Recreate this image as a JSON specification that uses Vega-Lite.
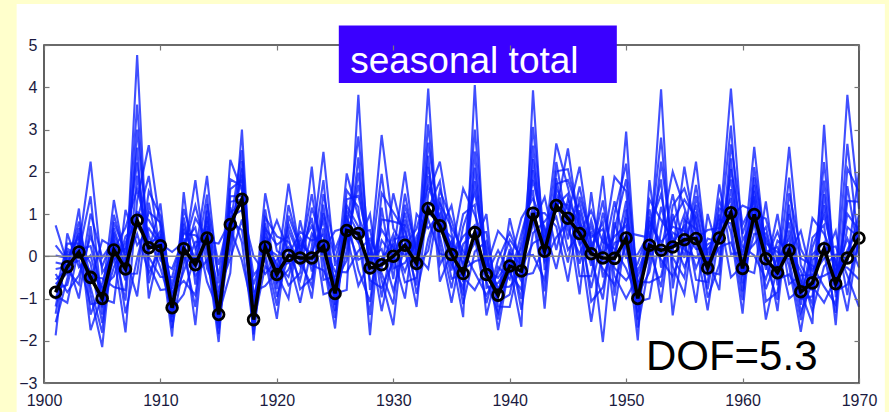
{
"$schema": "https://vega.github.io/schema/vega-lite/v6.json",
"width": 815, "height": 338,
"autosize": {"type": "none"},
"padding": {"left": 44, "top": 45, "right": 30, "bottom": 29},
"background": "#FFFFCC",
"config": {
 "view": {"stroke": null},
 "font": "Liberation Sans",
 "axis": {"domain": false, "grid": false, "title": null, "labelFlush": false, "labelOverlap": false, "labelFont": "Liberation Sans", "labelFontSize": 16, "labelColor": "#1a1a40", "tickColor": "#777777", "tickSize": -5, "tickWidth": 1.2}
},
"datasets": {"ens": [
{"year":1901,"obs":-0.85,"a":-0.77,"b":0.26,"c":-1.36,"d":-0.30,"e":-0.93,"f":-1.87,"g":0.02,"h":-0.66,"i":-1.19,"j":-0.42,"k":0.73,"l":-0.85,"m":-1.56,"n":-0.15,"o":-0.55,"p":-1.03},
{"year":1902,"obs":-0.25,"a":-0.68,"b":-0.10,"c":0.18,"d":-0.25,"e":-1.1,"f":0.54,"g":-0.04,"h":-0.40,"i":0.10,"j":-0.85,"k":-0.16,"l":0.30,"m":-0.53,"n":-0.21,"o":-0.32,"p":0.03},
{"year":1903,"obs":0.10,"a":0.38,"b":-1.0,"c":0.01,"d":0.82,"e":0.22,"f":-0.26,"g":0.46,"h":1.13,"i":0.10,"j":-0.45,"k":0.55,"l":0.30,"m":0.67,"n":-0.10,"o":-0.67,"p":0.15},
{"year":1904,"obs":-0.50,"a":-0.60,"b":0.71,"c":-0.36,"d":-0.91,"e":2.24,"f":0.02,"g":-0.73,"h":-1.38,"i":1.42,"j":0.46,"k":-1.75,"l":-0.17,"m":-0.50,"n":-1.13,"o":1.01,"p":0.24},
{"year":1905,"obs":-1.00,"a":0.38,"b":-1.38,"c":-0.74,"d":-2.15,"e":-0.39,"f":-1.0,"g":-1.81,"h":-0.63,"i":-1.21,"j":-0.24,"k":-0.93,"l":-1.58,"m":-0.52,"n":-1.09,"o":-0.03,"p":-0.83},
{"year":1906,"obs":0.15,"a":0.21,"b":0.98,"c":-0.48,"d":0.56,"e":0.05,"f":-1.1,"g":0.80,"h":0.29,"i":-0.26,"j":0.47,"k":1.33,"l":0.15,"m":-0.73,"n":0.67,"o":0.37,"p":-0.08},
{"year":1907,"obs":-0.30,"a":-1.05,"b":-0.03,"c":0.47,"d":-0.30,"e":-1.8,"f":1.1,"g":0.08,"h":-0.57,"i":0.32,"j":-1.35,"k":-0.13,"l":0.68,"m":-0.80,"n":-0.23,"o":-0.42,"p":0.19},
{"year":1908,"obs":0.85,"a":1.91,"b":-0.95,"c":0.71,"d":3.59,"e":1.32,"f":0.26,"g":2.22,"h":4.76,"i":0.85,"j":-0.05,"k":2.57,"l":1.59,"m":3.0,"n":0.53,"o":-0.41,"p":1.05},
{"year":1909,"obs":0.20,"a":0.10,"b":1.27,"c":0.32,"d":-0.20,"e":2.63,"f":0.66,"g":-0.02,"h":-0.64,"i":1.90,"j":1.05,"k":-1.0,"l":0.49,"m":0.20,"n":-0.40,"o":1.54,"p":0.86},
{"year":1910,"obs":0.25,"a":1.25,"b":-0.10,"c":0.44,"d":-0.8,"e":0.69,"f":0.25,"g":-0.49,"h":0.52,"i":0.06,"j":0.80,"k":0.30,"l":-0.28,"m":0.60,"n":0.17,"o":0.95,"p":0.37},
{"year":1911,"obs":-1.22,"a":-1.15,"b":-0.30,"c":-1.56,"d":-0.76,"e":-1.27,"f":-1.9,"g":-0.49,"h":-1.06,"i":-1.44,"j":-0.86,"k":0.1,"l":-1.22,"m":-1.70,"n":-0.64,"o":-0.97,"p":-1.34},
{"year":1912,"obs":0.18,"a":-0.36,"b":0.43,"c":0.92,"d":0.18,"e":-0.9,"f":1.52,"g":0.54,"h":-0.01,"i":0.77,"j":-0.58,"k":0.34,"l":1.12,"m":-0.18,"n":0.25,"o":0.09,"p":0.65},
{"year":1913,"obs":-0.20,"a":0.34,"b":-1.63,"c":-0.31,"d":1.20,"e":0.04,"f":-0.67,"g":0.50,"h":1.8,"i":-0.20,"j":-0.92,"k":0.68,"l":0.18,"m":0.90,"n":-0.46,"o":-1.20,"p":-0.10},
{"year":1914,"obs":0.43,"a":0.35,"b":1.08,"c":0.50,"d":0.09,"e":1.9,"f":0.71,"g":0.24,"h":-0.29,"i":1.46,"j":0.94,"k":-0.6,"l":0.61,"m":0.43,"n":-0.09,"o":1.24,"p":0.83},
{"year":1915,"obs":-1.38,"a":0.3,"b":-1.59,"c":-1.06,"d":-2.03,"e":-0.64,"f":-1.38,"g":-1.84,"h":-0.93,"i":-1.50,"j":-0.46,"k":-1.30,"l":-1.71,"m":-0.79,"n":-1.43,"o":-0.20,"p":-1.18},
{"year":1916,"obs":0.75,"a":0.83,"b":1.82,"c":0.17,"d":1.29,"e":0.66,"f":-0.4,"g":1.59,"h":0.93,"i":0.37,"j":1.16,"k":2.28,"l":0.75,"m":-0.06,"n":1.42,"o":1.04,"p":0.54},
{"year":1917,"obs":1.35,"a":0.62,"b":1.66,"c":2.26,"d":1.35,"e":-0.1,"f":3.0,"g":1.80,"h":1.09,"i":2.08,"j":0.33,"k":1.55,"l":2.51,"m":0.87,"n":1.43,"o":1.23,"p":1.93},
{"year":1918,"obs":-1.50,"a":-1.09,"b":-2.0,"c":-1.54,"d":-0.45,"e":-1.32,"f":-1.67,"g":-0.97,"h":0.0,"i":-1.50,"j":-1.75,"k":-0.84,"l":-1.21,"m":-0.67,"n":-1.59,"o":-1.85,"p":-1.42},
{"year":1919,"obs":0.22,"a":0.15,"b":0.78,"c":0.28,"d":-0.08,"e":1.49,"f":0.46,"g":0.05,"h":-0.42,"i":1.11,"j":0.66,"k":-0.7,"l":0.37,"m":0.22,"n":-0.24,"o":0.92,"p":0.56},
{"year":1920,"obs":-0.43,"a":0.85,"b":-0.78,"c":-0.19,"d":-1.48,"e":0.13,"f":-0.43,"g":-1.17,"h":-0.08,"i":-0.62,"j":0.27,"k":-0.37,"l":-0.96,"m":0.02,"n":-0.51,"o":0.47,"p":-0.28},
{"year":1921,"obs":0.02,"a":0.11,"b":1.21,"c":-0.49,"d":0.62,"e":-0.06,"f":-1.0,"g":0.96,"h":0.22,"i":-0.32,"j":0.48,"k":1.72,"l":0.02,"m":-0.69,"n":0.77,"o":0.34,"p":-0.16},
{"year":1922,"obs":-0.04,"a":-0.57,"b":0.13,"c":0.45,"d":-0.04,"e":-1.1,"f":0.85,"g":0.20,"h":-0.23,"i":0.35,"j":-0.78,"k":0.07,"l":0.58,"m":-0.39,"n":0.00,"o":-0.12,"p":0.27},
{"year":1923,"obs":-0.04,"a":0.54,"b":-1.0,"c":-0.12,"d":1.47,"e":0.22,"f":-0.36,"g":0.72,"h":2.12,"i":-0.04,"j":-0.52,"k":0.91,"l":0.37,"m":1.15,"n":-0.21,"o":-0.71,"p":0.07},
{"year":1924,"obs":0.24,"a":0.15,"b":1.22,"c":0.35,"d":-0.14,"e":2.47,"f":0.66,"g":0.03,"h":-0.56,"i":1.80,"j":1.02,"k":-0.9,"l":0.51,"m":0.24,"n":-0.33,"o":1.47,"p":0.84},
{"year":1925,"obs":-0.88,"a":0.6,"b":-1.15,"c":-0.60,"d":-1.71,"e":-0.23,"f":-0.88,"g":-1.46,"h":-0.48,"i":-1.03,"j":-0.07,"k":-0.81,"l":-1.30,"m":-0.36,"n":-0.95,"o":0.16,"p":-0.70},
{"year":1926,"obs":0.61,"a":0.68,"b":1.56,"c":-0.10,"d":1.08,"e":0.50,"f":-0.8,"g":1.35,"h":0.77,"i":0.14,"j":0.97,"k":1.96,"l":0.61,"m":-0.38,"n":1.20,"o":0.87,"p":0.36},
{"year":1927,"obs":0.54,"a":-0.08,"b":1.16,"c":2.34,"d":0.54,"e":-0.7,"f":3.82,"g":1.43,"h":0.32,"i":1.98,"j":-0.33,"k":0.93,"l":2.84,"m":0.13,"n":0.70,"o":0.44,"p":1.69},
{"year":1928,"obs":-0.28,"a":0.07,"b":-1.87,"c":-0.41,"d":0.62,"e":-0.13,"f":-0.80,"g":0.17,"h":1.0,"i":-0.28,"j":-1.08,"k":0.28,"l":-0.04,"m":0.42,"n":-0.57,"o":-1.39,"p":-0.22},
{"year":1929,"obs":-0.20,"a":-0.29,"b":1.15,"c":-0.05,"d":-0.56,"e":2.87,"f":0.38,"g":-0.40,"h":-0.97,"i":1.95,"j":0.87,"k":-1.3,"l":0.17,"m":-0.20,"n":-0.75,"o":1.49,"p":0.63},
{"year":1930,"obs":0.00,"a":1.49,"b":-0.54,"c":0.28,"d":-1.63,"e":0.66,"f":0.0,"g":-1.14,"h":0.40,"i":-0.29,"j":0.82,"k":0.07,"l":-0.82,"m":0.52,"n":-0.13,"o":1.04,"p":0.18},
{"year":1931,"obs":0.26,"a":0.35,"b":1.48,"c":-0.37,"d":0.87,"e":0.16,"f":-1.0,"g":1.22,"h":0.47,"i":-0.16,"j":0.73,"k":2.0,"l":0.26,"m":-0.62,"n":1.03,"o":0.59,"p":0.03},
{"year":1932,"obs":-0.17,"a":-0.69,"b":0.05,"c":0.47,"d":-0.17,"e":-1.2,"f":1.0,"g":0.15,"h":-0.36,"i":0.34,"j":-0.89,"k":-0.03,"l":0.65,"m":-0.51,"n":-0.11,"o":-0.25,"p":0.24},
{"year":1933,"obs":1.13,"a":1.90,"b":-0.3,"c":1.02,"d":3.12,"e":1.47,"f":0.66,"g":2.12,"h":3.97,"i":1.13,"j":0.41,"k":2.38,"l":1.67,"m":2.69,"n":0.87,"o":0.13,"p":1.27},
{"year":1934,"obs":0.72,"a":0.61,"b":1.39,"c":0.80,"d":0.28,"e":2.24,"f":1.01,"g":0.48,"h":-0.20,"i":1.78,"j":1.25,"k":-0.6,"l":0.90,"m":0.72,"n":0.06,"o":1.56,"p":1.13},
{"year":1935,"obs":0.04,"a":1.2,"b":-0.34,"c":0.26,"d":-1.1,"e":0.55,"f":0.04,"g":-0.76,"h":0.35,"i":-0.17,"j":0.68,"k":0.10,"l":-0.53,"m":0.45,"n":-0.05,"o":0.85,"p":0.18},
{"year":1936,"obs":-0.41,"a":-0.31,"b":1.00,"c":-0.93,"d":0.29,"e":-0.49,"f":-1.44,"g":0.70,"h":-0.17,"i":-0.75,"j":0.13,"k":1.6,"l":-0.41,"m":-1.13,"n":0.47,"o":-0.03,"p":-0.60},
{"year":1937,"obs":0.56,"a":-0.12,"b":1.22,"c":2.48,"d":0.56,"e":-0.8,"f":4.05,"g":1.50,"h":0.32,"i":2.10,"j":-0.39,"k":0.98,"l":3.00,"m":0.11,"n":0.73,"o":0.45,"p":1.78},
{"year":1938,"obs":-0.43,"a":-0.04,"b":-1.4,"c":-0.51,"d":0.57,"e":-0.26,"f":-0.75,"g":0.07,"h":1.0,"i":-0.43,"j":-0.92,"k":0.20,"l":-0.16,"m":0.36,"n":-0.60,"o":-1.11,"p":-0.36},
{"year":1939,"obs":-0.92,"a":-0.99,"b":-0.25,"c":-0.84,"d":-1.19,"e":0.6,"f":-0.63,"g":-1.07,"h":-1.50,"i":0.14,"j":-0.39,"k":-1.75,"l":-0.74,"m":-0.92,"n":-1.34,"o":-0.08,"p":-0.51},
{"year":1940,"obs":-0.23,"a":0.9,"b":-0.55,"c":-0.02,"d":-1.2,"e":0.27,"f":-0.23,"g":-0.91,"h":0.08,"i":-0.40,"j":0.39,"k":-0.17,"l":-0.72,"m":0.17,"n":-0.31,"o":0.56,"p":-0.09},
{"year":1941,"obs":-0.35,"a":-0.29,"b":0.53,"c":-1.01,"d":0.09,"e":-0.46,"f":-1.67,"g":0.34,"h":-0.20,"i":-0.79,"j":-0.01,"k":0.9,"l":-0.35,"m":-1.27,"n":0.20,"o":-0.11,"p":-0.59},
{"year":1942,"obs":1.02,"a":0.31,"b":1.57,"c":2.62,"d":1.02,"e":-0.4,"f":3.93,"g":1.81,"h":0.76,"i":2.30,"j":0.03,"k":1.37,"l":3.06,"m":0.55,"n":1.17,"o":0.91,"p":2.04},
{"year":1943,"obs":0.12,"a":0.47,"b":-1.24,"c":0.01,"d":1.02,"e":0.27,"f":-0.33,"g":0.57,"h":1.4,"i":0.12,"j":-0.56,"k":0.68,"l":0.36,"m":0.82,"n":-0.12,"o":-0.83,"p":0.18},
{"year":1944,"obs":1.20,"a":1.08,"b":1.85,"c":1.27,"d":0.70,"e":2.67,"f":1.48,"g":0.93,"h":0.15,"i":2.23,"j":1.71,"k":-0.3,"l":1.38,"m":1.20,"n":0.45,"o":2.01,"p":1.60},
{"year":1945,"obs":0.90,"a":2.55,"b":0.40,"c":1.21,"d":-0.6,"e":1.63,"f":0.90,"g":-0.15,"h":1.35,"i":0.63,"j":1.81,"k":0.98,"l":0.15,"m":1.48,"n":0.78,"o":2.06,"p":1.10},
{"year":1946,"obs":0.54,"a":0.62,"b":1.65,"c":-0.18,"d":1.09,"e":0.42,"f":-0.9,"g":1.41,"h":0.73,"i":0.06,"j":0.97,"k":2.12,"l":0.54,"m":-0.47,"n":1.24,"o":0.84,"p":0.28},
{"year":1947,"obs":0.06,"a":-0.75,"b":0.34,"c":0.86,"d":0.06,"e":-1.55,"f":1.52,"g":0.45,"h":-0.23,"i":0.70,"j":-1.07,"k":0.24,"l":1.08,"m":-0.47,"n":0.13,"o":-0.07,"p":0.57},
{"year":1948,"obs":-0.04,"a":0.48,"b":-2.03,"c":-0.15,"d":1.32,"e":0.19,"f":-0.50,"g":0.64,"h":1.9,"i":-0.04,"j":-0.74,"k":0.81,"l":0.33,"m":1.03,"n":-0.29,"o":-1.02,"p":0.06},
{"year":1949,"obs":-0.05,"a":-0.15,"b":0.80,"c":0.05,"d":-0.46,"e":1.88,"f":0.32,"g":-0.28,"h":-0.93,"i":1.30,"j":0.63,"k":-1.3,"l":0.18,"m":-0.05,"n":-0.68,"o":1.01,"p":0.47},
{"year":1950,"obs":0.43,"a":2.95,"b":-0.04,"c":0.91,"d":-1.0,"e":1.54,"f":0.43,"g":-0.57,"h":1.11,"i":0.17,"j":1.82,"k":0.56,"l":-0.29,"m":1.31,"n":0.32,"o":2.19,"p":0.73},
{"year":1951,"obs":-1.00,"a":-0.92,"b":0.05,"c":-1.50,"d":-0.47,"e":-1.08,"f":-1.99,"g":-0.17,"h":-0.82,"i":-1.33,"j":-0.59,"k":0.5,"l":-1.0,"m":-1.69,"n":-0.34,"o":-0.71,"p":-1.18},
{"year":1952,"obs":0.26,"a":-0.37,"b":0.55,"c":1.11,"d":0.26,"e":-1.0,"f":1.8,"g":0.68,"h":0.03,"i":0.94,"j":-0.62,"k":0.44,"l":1.34,"m":-0.16,"n":0.34,"o":0.16,"p":0.80},
{"year":1953,"obs":0.14,"a":1.17,"b":-1.1,"c":0.04,"d":2.81,"e":0.60,"f":-0.27,"g":1.47,"h":3.95,"i":0.14,"j":-0.48,"k":1.82,"l":0.86,"m":2.24,"n":-0.08,"o":-0.73,"p":0.33},
{"year":1954,"obs":0.22,"a":0.11,"b":1.00,"c":0.31,"d":-0.24,"e":2.0,"f":0.56,"g":-0.03,"h":-0.76,"i":1.47,"j":0.84,"k":-1.4,"l":0.43,"m":0.22,"n":-0.48,"o":1.20,"p":0.70},
{"year":1955,"obs":0.39,"a":2.12,"b":-0.04,"c":0.72,"d":-0.9,"e":1.15,"f":0.39,"g":-0.51,"h":0.86,"i":0.16,"j":1.34,"k":0.48,"l":-0.26,"m":1.00,"n":0.29,"o":1.60,"p":0.60},
{"year":1956,"obs":0.42,"a":0.51,"b":1.69,"c":-0.28,"d":1.06,"e":0.31,"f":-1.1,"g":1.42,"h":0.64,"i":-0.04,"j":0.91,"k":2.24,"l":0.42,"m":-0.56,"n":1.22,"o":0.77,"p":0.17},
{"year":1957,"obs":-0.28,"a":-0.78,"b":-0.04,"c":0.42,"d":-0.28,"e":-1.28,"f":1.0,"g":0.07,"h":-0.46,"i":0.28,"j":-0.98,"k":-0.13,"l":0.62,"m":-0.61,"n":-0.22,"o":-0.36,"p":0.17},
{"year":1958,"obs":0.43,"a":0.77,"b":-0.8,"c":0.33,"d":1.32,"e":0.58,"f":0.02,"g":0.87,"h":1.7,"i":0.43,"j":-0.19,"k":0.99,"l":0.67,"m":1.13,"n":0.21,"o":-0.43,"p":0.49},
{"year":1959,"obs":1.03,"a":0.92,"b":2.32,"c":1.18,"d":0.57,"e":3.97,"f":1.59,"g":0.78,"h":0.05,"i":3.09,"j":2.06,"k":-0.5,"l":1.38,"m":1.03,"n":0.33,"o":2.65,"p":1.82},
{"year":1960,"obs":-0.29,"a":1.2,"b":-0.64,"c":-0.01,"d":-1.36,"e":0.37,"f":-0.29,"g":-1.04,"h":0.11,"i":-0.48,"j":0.53,"k":-0.22,"l":-0.83,"m":0.23,"n":-0.38,"o":0.75,"p":-0.11},
{"year":1961,"obs":0.99,"a":1.07,"b":2.11,"c":0.29,"d":1.55,"e":0.88,"f":-0.4,"g":1.87,"h":1.18,"i":0.53,"j":1.42,"k":2.59,"l":0.99,"m":0.02,"n":1.69,"o":1.29,"p":0.74},
{"year":1962,"obs":-0.06,"a":-0.78,"b":0.20,"c":0.69,"d":-0.06,"e":-1.5,"f":1.3,"g":0.31,"h":-0.32,"i":0.54,"j":-1.07,"k":0.10,"l":0.89,"m":-0.54,"n":0.01,"o":-0.18,"p":0.42},
{"year":1963,"obs":-0.39,"a":-0.01,"b":-1.3,"c":-0.46,"d":0.58,"e":-0.22,"f":-0.69,"g":0.10,"h":1.0,"i":-0.39,"j":-0.85,"k":0.22,"l":-0.13,"m":0.37,"n":-0.55,"o":-1.03,"p":-0.32},
{"year":1964,"obs":0.14,"a":0.05,"b":1.22,"c":0.26,"d":-0.24,"e":2.59,"f":0.61,"g":-0.07,"h":-0.66,"i":1.86,"j":1.00,"k":-1.0,"l":0.43,"m":0.14,"n":-0.43,"o":1.49,"p":0.80},
{"year":1965,"obs":-0.84,"a":0.6,"b":-1.15,"c":-0.57,"d":-1.79,"e":-0.21,"f":-0.84,"g":-1.51,"h":-0.45,"i":-1.01,"j":-0.05,"k":-0.77,"l":-1.32,"m":-0.34,"n":-0.92,"o":0.17,"p":-0.67},
{"year":1966,"obs":-0.63,"a":-0.55,"b":0.44,"c":-1.12,"d":-0.09,"e":-0.71,"f":-1.6,"g":0.21,"h":-0.45,"i":-0.95,"j":-0.22,"k":0.9,"l":-0.63,"m":-1.31,"n":0.04,"o":-0.34,"p":-0.80},
{"year":1967,"obs":0.18,"a":-0.46,"b":0.74,"c":1.79,"d":0.18,"e":-1.1,"f":3.11,"g":0.97,"h":-0.05,"i":1.47,"j":-0.72,"k":0.53,"l":2.23,"m":-0.24,"n":0.33,"o":0.08,"p":1.21},
{"year":1968,"obs":-0.65,"a":-0.31,"b":-1.63,"c":-0.73,"d":0.23,"e":-0.50,"f":-0.97,"g":-0.21,"h":0.6,"i":-0.65,"j":-1.14,"k":-0.10,"l":-0.41,"m":0.04,"n":-0.83,"o":-1.34,"p":-0.59},
{"year":1969,"obs":-0.04,"a":-0.14,"b":1.66,"c":0.15,"d":-0.46,"e":3.82,"f":0.69,"g":-0.27,"h":-0.92,"i":2.66,"j":1.31,"k":-1.3,"l":0.42,"m":-0.04,"n":-0.67,"o":2.08,"p":1.00},
{"year":1970,"obs":0.43,"a":2.0,"b":-0.03,"c":0.73,"d":-1.2,"e":1.12,"f":0.43,"g":-0.55,"h":0.85,"i":0.18,"j":1.29,"k":0.51,"l":-0.27,"m":0.98,"n":0.32,"o":1.53,"p":0.62}
]},
"resolve": {"axis": {"x": "independent", "y": "independent"}},
"layer": [
 {"data": {"values": [{}]},
  "mark": {"type": "rect", "fill": "#ffffff", "clip": false},
  "encoding": {
   "x": {"datum": 1897.65, "type": "quantitative", "scale": {"domain": [1900, 1970], "nice": false, "zero": false}, "axis": null},
   "x2": {"datum": 1972.22},
   "y": {"datum": 5.97, "type": "quantitative", "scale": {"domain": [-3, 5], "nice": false, "zero": false}, "axis": null},
   "y2": {"datum": -3.75}}},
 {"data": {"name": "ens"},
  "transform": [{"fold": ["a","b","c","d","e","f","g","h","i","j","k","l","m","n","o","p"], "as": ["member", "value"]}],
  "mark": {"type": "line", "color": "#0a1eff", "strokeWidth": 2.1, "opacity": 0.78},
  "encoding": {
   "x": {"field": "year", "type": "quantitative", "scale": {"domain": [1900, 1970], "nice": false, "zero": false},
         "axis": {"orient": "bottom", "zindex": 3, "values": [1900,1910,1920,1930,1940,1950,1960,1970], "format": "d", "labelPadding": 14}},
   "y": {"field": "value", "type": "quantitative", "scale": {"domain": [-3, 5], "nice": false, "zero": false},
         "axis": {"orient": "left", "zindex": 3, "values": [-3,-2,-1,0,1,2,3,4,5], "format": "d", "labelPadding": 12}},
   "detail": {"field": "member"}}},
 {"data": {"values": [{}]},
  "mark": {"type": "rule", "color": "#8a8a8a", "strokeWidth": 1.5},
  "encoding": {
   "y": {"datum": 0, "type": "quantitative", "scale": {"domain": [-3, 5], "nice": false, "zero": false}, "axis": null}}},
 {"data": {"name": "ens"},
  "mark": {"type": "line", "color": "#000000", "strokeWidth": 3.5},
  "encoding": {
   "x": {"field": "year", "type": "quantitative", "scale": {"domain": [1900, 1970], "nice": false, "zero": false},
         "axis": {"orient": "top", "zindex": 3, "values": [1900,1910,1920,1930,1940,1950,1960,1970], "labels": false}},
   "y": {"field": "obs", "type": "quantitative", "scale": {"domain": [-3, 5], "nice": false, "zero": false},
         "axis": {"orient": "right", "zindex": 3, "values": [-3,-2,-1,0,1,2,3,4,5], "labels": false}}}},
 {"data": {"name": "ens"},
  "mark": {"type": "point", "shape": "circle", "filled": false, "size": 115, "strokeWidth": 2.8, "color": "#000000", "opacity": 1},
  "encoding": {
   "x": {"field": "year", "type": "quantitative", "scale": {"domain": [1900, 1970], "nice": false, "zero": false}, "axis": null},
   "y": {"field": "obs", "type": "quantitative", "scale": {"domain": [-3, 5], "nice": false, "zero": false}, "axis": null}}},
 {"data": {"values": [{}]},
  "mark": {"type": "rect", "fillOpacity": 0, "stroke": "#3a3a3a", "strokeWidth": 1.6},
  "encoding": {
   "x": {"datum": 1900, "type": "quantitative", "scale": {"domain": [1900, 1970], "nice": false, "zero": false}, "axis": null},
   "x2": {"datum": 1970},
   "y": {"datum": 5, "type": "quantitative", "scale": {"domain": [-3, 5], "nice": false, "zero": false}, "axis": null},
   "y2": {"datum": -3}}},
 {"data": {"values": [{}]},
  "mark": {"type": "rect", "fill": "#3a00ff", "clip": false},
  "encoding": {
   "x": {"datum": 1925.32, "type": "quantitative", "scale": {"domain": [1900, 1970], "nice": false, "zero": false}, "axis": null},
   "x2": {"datum": 1949.2},
   "y": {"datum": 5.46, "type": "quantitative", "scale": {"domain": [-3, 5], "nice": false, "zero": false}, "axis": null},
   "y2": {"datum": 4.1}}},
 {"data": {"values": [{}]},
  "mark": {"type": "text", "color": "#ffffff", "font": "Liberation Sans", "fontSize": 37, "align": "left", "baseline": "alphabetic"},
  "encoding": {
   "x": {"datum": 1926.3, "type": "quantitative", "scale": {"domain": [1900, 1970], "nice": false, "zero": false}, "axis": null},
   "y": {"datum": 4.34, "type": "quantitative", "scale": {"domain": [-3, 5], "nice": false, "zero": false}, "axis": null},
   "text": {"value": "seasonal total"}}},
 {"data": {"values": [{}]},
  "mark": {"type": "text", "color": "#000000", "font": "Liberation Sans", "fontSize": 42, "align": "left", "baseline": "alphabetic"},
  "encoding": {
   "x": {"datum": 1951.7, "type": "quantitative", "scale": {"domain": [1900, 1970], "nice": false, "zero": false}, "axis": null},
   "y": {"datum": -2.7, "type": "quantitative", "scale": {"domain": [-3, 5], "nice": false, "zero": false}, "axis": null},
   "text": {"value": "DOF=5.3"}}}
]
}
